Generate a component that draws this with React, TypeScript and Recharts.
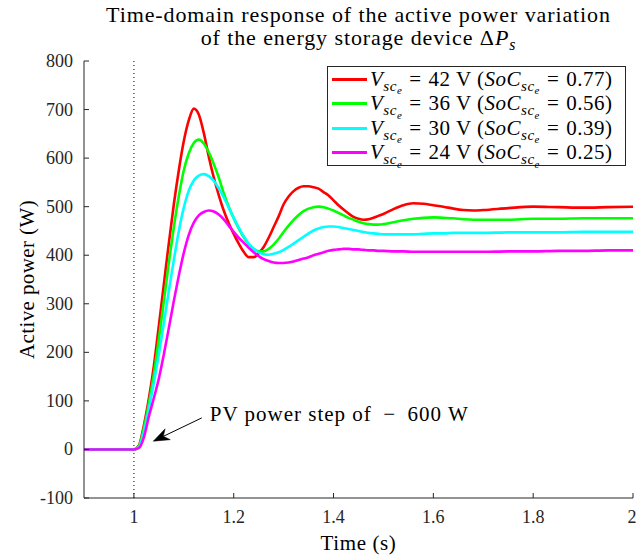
import React from 'react';
import { LineChart, Line, XAxis, YAxis, ReferenceLine, Legend } from 'recharts';

const TIME = [
  0.9, 1.0, 1.01, 1.02, 1.03, 1.04, 1.05, 1.06, 1.07, 1.08, 1.09,
  1.10, 1.11, 1.12, 1.13, 1.14, 1.15, 1.16, 1.17, 1.18, 1.19,
  1.20, 1.21, 1.22, 1.23, 1.24, 1.25, 1.26, 1.27, 1.28, 1.29,
  1.30, 1.31, 1.32, 1.33, 1.34, 1.35, 1.36, 1.37, 1.38, 1.39,
  1.40, 1.41, 1.42, 1.43, 1.44, 1.45, 1.46, 1.47, 1.48, 1.49, 1.50,
  1.52, 1.54, 1.56, 1.58, 1.60, 1.62, 1.64, 1.66, 1.68, 1.70,
  1.75, 1.80, 1.85, 1.90, 1.95, 2.0,
];

const RED = [
  0, 0, 8, 50, 105, 172, 255, 340, 425, 505, 575,
  635, 678, 702, 690, 652, 603, 560, 524, 492, 466,
  444, 424, 407, 396, 396, 404, 417, 436, 458, 480,
  505, 521, 532, 539, 542, 542, 540, 537, 530, 523,
  513, 503, 494, 486, 479, 475, 473, 474, 477, 481, 485,
  495, 503, 507, 506, 503, 500, 496, 493, 492, 493,
  497, 500, 499, 498, 499, 500,
];

const GREEN = [
  0, 0, 7, 44, 95, 155, 228, 305, 385, 458, 522,
  575, 610, 631, 638, 630, 612, 588, 560, 528, 500,
  476, 455, 437, 423, 413, 408, 408, 413, 422, 434,
  448, 461, 473, 483, 491, 496, 499, 500, 499, 496,
  492, 487, 482, 477, 473, 469, 466, 464, 463, 463, 464,
  468, 472, 475, 477, 478, 477, 476, 474, 473, 473,
  473, 475, 475, 476, 476, 476,
];

const CYAN = [
  0, 0, 5, 36, 84, 138, 196, 260, 326, 390, 450,
  498, 533, 554, 564, 567, 563, 553, 538, 519, 498,
  477, 457, 439, 424, 413, 406, 402, 401, 403, 406,
  411, 417, 424, 431, 438, 445, 451, 455, 458, 459,
  459, 458, 456, 454, 452, 450, 448, 446, 445, 444, 443,
  443, 443, 443, 444, 445, 445, 446, 446, 446, 446,
  447, 447, 447, 448, 448, 448,
];

const MAGENTA = [
  0, 0, 3, 25, 68, 106, 146, 196, 250, 306, 358,
  405, 442, 467, 482, 489, 492, 490, 484, 474, 461,
  448, 436, 426, 415, 406, 398, 392, 388, 385, 384,
  384, 385, 387, 390, 393, 396, 400, 403, 406, 409,
  411, 412, 413, 413, 412, 412, 411, 410, 410, 409, 409,
  408, 408, 407, 407, 407, 407, 407, 407, 407, 407,
  408, 408, 409, 409, 410, 410,
];

const X_TICKS = [1, 1.2, 1.4, 1.6, 1.8, 2];
const Y_TICKS = [-100, 0, 100, 200, 300, 400, 500, 600, 700, 800];

const SERIES_KEYS = ['r', 'g', 'c', 'm'];
const SERIES_COLORS = ['#ff0000', '#00ff00', '#00ffff', '#ff00ff'];
const VOLTAGES = ['42', '36', '30', '24'];
const SOCS = ['0.77', '0.56', '0.39', '0.25'];

const ARROW_TAIL = { x: 1.136, y: 65 };
const ARROW_TIP = { x: 1.0388, y: 17 };
const ANNOTATION = 'PV power step of \u2009\u2212\u2009 600 W';

const FONT = '"Liberation Serif", "Times New Roman", serif';
const AXIS_COLOR = '#262626';

const Sub = ({ children }: { children: React.ReactNode }) => (
  <span style={{ fontSize: '0.72em', position: 'relative', top: '0.32em' }}>{children}</span>
);

const XTick = (props: any) => {
  const { x, y, payload } = props;
  return (
    <text x={x} y={y} textAnchor="middle" dominantBaseline="hanging" fontSize={18} fontFamily={FONT} fill="#262626">
      {String(payload.value)}
    </text>
  );
};

const YTick = (props: any) => {
  const { x, y, payload } = props;
  return (
    <text x={x} y={y} textAnchor="end" dominantBaseline="central" fontSize={18} fontFamily={FONT} fill="#262626">
      {String(payload.value)}
    </text>
  );
};

const ArrowShape = (props: any) => {
  const { x1, y1, x2, y2 } = props;
  const dx = x2 - x1;
  const dy = y2 - y1;
  const len = Math.sqrt(dx * dx + dy * dy) || 1;
  const ux = dx / len;
  const uy = dy / len;
  const px = -uy;
  const py = ux;
  const hl = 16;
  const hw = 6;
  const bx = x2 - ux * hl;
  const by = y2 - uy * hl;
  const ix = x2 - ux * hl * 0.7;
  const iy = y2 - uy * hl * 0.7;
  const head = `M${x2},${y2} L${bx + px * hw},${by + py * hw} L${ix},${iy} L${bx - px * hw},${by - py * hw} Z`;
  return (
    <g>
      <line x1={x1} y1={y1} x2={ix} y2={iy} stroke="#000" strokeWidth={1} />
      <path d={head} fill="#000" stroke="#000" strokeWidth={0.5} />
      <text
        x={x1 + 8}
        y={y1 - 4}
        fontSize={21}
        letterSpacing={1.0}
        fontFamily={FONT}
        fill="#000"
        dominantBaseline="central"
      >
        {ANNOTATION}
      </text>
    </g>
  );
};

const Eq = () => <span style={{ margin: '0 7px' }}>=</span>;

const LegendContent = () => (
  <div
    style={{
      border: '1px solid #262626',
      background: '#fff',
      width: 297,
      height: 98,
      boxSizing: 'content-box',
      fontFamily: FONT,
      fontSize: 21,
      letterSpacing: 0.5,
      color: '#000',
    }}
  >
    {SERIES_KEYS.map((k, i) => (
      <div key={k} style={{ display: 'flex', alignItems: 'center', height: 24.5, whiteSpace: 'nowrap' }}>
        <div style={{ width: 35, height: 3, background: SERIES_COLORS[i], marginLeft: 4, marginRight: 3, flex: 'none' }} />
        <span>
          <i>V</i>
          <Sub>
            <i>sc</i>
            <Sub>
              <i>e</i>
            </Sub>
          </Sub>
          <Eq />
          {VOLTAGES[i] + ' V ('}
          <i>SoC</i>
          <Sub>
            <i>sc</i>
            <Sub>
              <i>e</i>
            </Sub>
          </Sub>
          <Eq />
          {SOCS[i] + ')'}
        </span>
      </div>
    ))}
  </div>
);

export default function App() {
  const data = TIME.map((t, i) => ({ t, r: RED[i], g: GREEN[i], c: CYAN[i], m: MAGENTA[i] }));
  return (
    <div style={{ position: 'absolute', left: 0, top: 0, width: 636, height: 555, background: '#fff', fontFamily: FONT }}>
      <div
        style={{
          position: 'absolute',
          left: 84,
          width: 549,
          top: 3,
          textAlign: 'center',
          fontSize: 22,
          letterSpacing: 0.9,
          lineHeight: '23px',
          color: '#000',
          whiteSpace: 'nowrap',
        }}
      >
        <div>Time-domain response of the active power variation</div>
        <div>
          of the energy storage device {'\u0394'}
          <i>P</i>
          <Sub>
            <i>s</i>
          </Sub>
        </div>
      </div>
      <LineChart width={636} height={555} data={data} margin={{ top: 61, right: 3, bottom: 17, left: 24 }}>
        <XAxis
          dataKey="t"
          type="number"
          domain={[0.9, 2]}
          ticks={X_TICKS}
          allowDataOverflow
          tickSize={-5}
          tickMargin={17}
          height={40}
          stroke={AXIS_COLOR}
          tick={XTick}
          label={{
            content: () => (
              <text
                x={358.5}
                y={543}
                textAnchor="middle"
                dominantBaseline="central"
                fontSize={21}
                letterSpacing={0.6}
                fontFamily={FONT}
                fill="#000"
              >
                Time (s)
              </text>
            ),
          }}
        />
        <XAxis
          xAxisId="top"
          orientation="top"
          dataKey="t"
          type="number"
          domain={[0.9, 2]}
          ticks={X_TICKS}
          allowDataOverflow
          tick={false}
          tickSize={-5}
          height={0}
          stroke={AXIS_COLOR}
        />
        <YAxis
          type="number"
          domain={[-100, 800]}
          ticks={Y_TICKS}
          allowDataOverflow
          width={60}
          tickSize={-5}
          tickMargin={16}
          stroke={AXIS_COLOR}
          tick={YTick}
          label={{
            content: () => (
              <text
                x={27}
                y={279.5}
                transform="rotate(-90 27 279.5)"
                textAnchor="middle"
                dominantBaseline="central"
                fontSize={21}
                letterSpacing={0.4}
                fontFamily={FONT}
                fill="#000"
              >
                Active power (W)
              </text>
            ),
          }}
        />
        <YAxis
          yAxisId="right"
          orientation="right"
          type="number"
          domain={[-100, 800]}
          ticks={Y_TICKS}
          allowDataOverflow
          width={0}
          tick={false}
          tickSize={-5}
          stroke={AXIS_COLOR}
        />
        <ReferenceLine x={1} stroke="#000" strokeWidth={1} strokeDasharray="1 3" />
        {SERIES_KEYS.map((k, i) => (
          <Line
            key={k}
            dataKey={k}
            type="monotone"
            stroke={SERIES_COLORS[i]}
            strokeWidth={2.6}
            dot={false}
            activeDot={false}
            isAnimationActive={false}
          />
        ))}
        <ReferenceLine segment={[ARROW_TAIL, ARROW_TIP]} ifOverflow="visible" shape={ArrowShape} stroke="#000" />
        <Legend
          layout="vertical"
          align="center"
          verticalAlign="middle"
          content={LegendContent}
          wrapperStyle={{ left: 327, top: 66, width: 299, height: 100 }}
        />
      </LineChart>
    </div>
  );
}
